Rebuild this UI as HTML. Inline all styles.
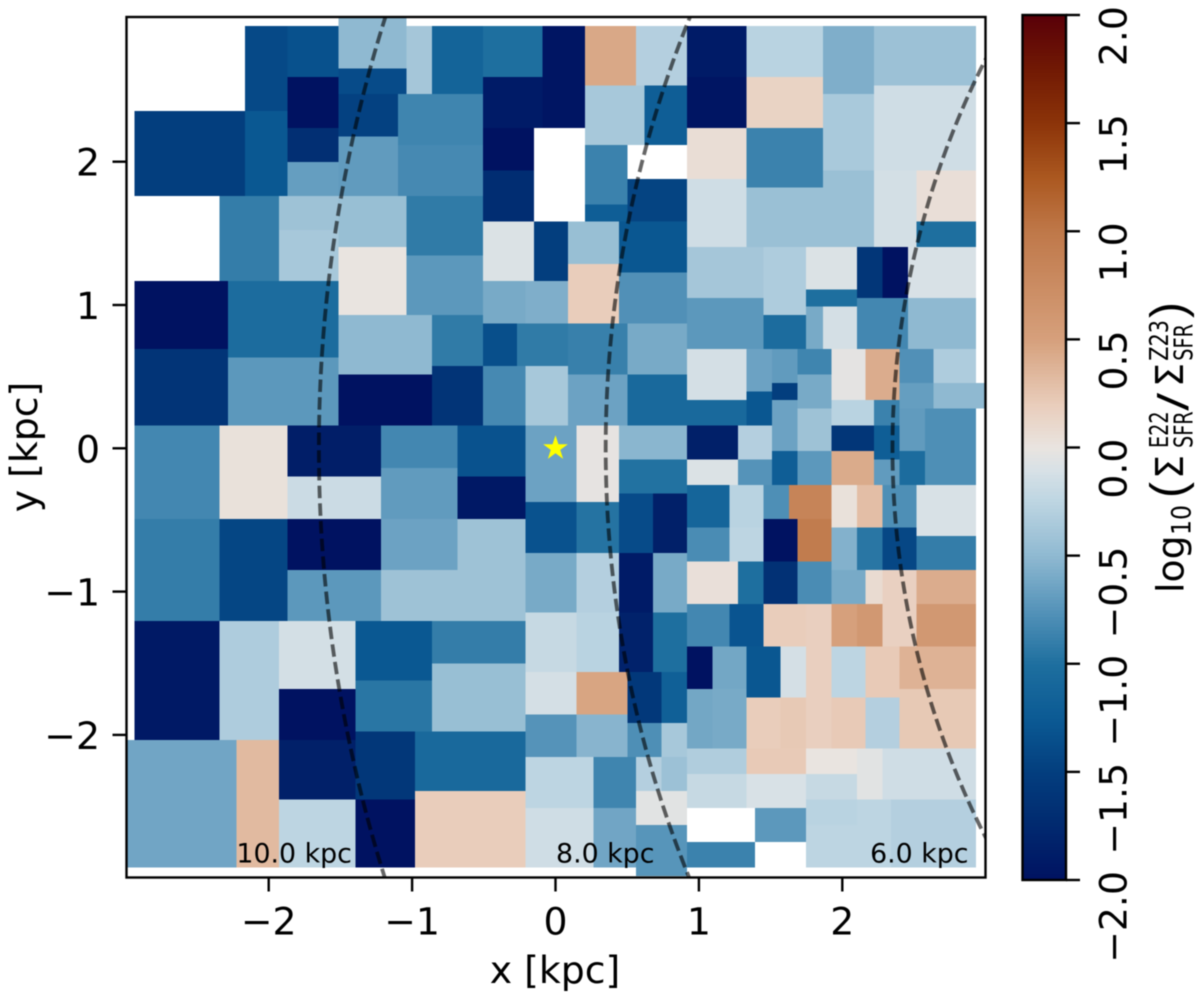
<!DOCTYPE html>
<html lang="en">
<head>
<meta charset="utf-8">
<title>Star formation rate ratio map</title>
<style>
html,body{margin:0;padding:0;background:#fff;}
svg{display:block;filter:blur(0.5px);}
text{font-family:"DejaVu Sans","Liberation Sans",sans-serif;fill:#000;}
</style>
</head>
<body>
<svg id="chart" xmlns="http://www.w3.org/2000/svg" width="1200" height="1002" viewBox="0 0 1200 1002">
  <defs>
    <clipPath id="plot-clip"><rect x="126.5" y="17" width="859" height="860.5"/></clipPath>
  </defs>
  <rect x="0" y="0" width="1200" height="1002" fill="#fff"/>
  <g id="cells" shape-rendering="crispEdges"></g>
  <g id="arcs" clip-path="url(#plot-clip)"></g>
  <g id="star-layer"></g>
  <g id="arc-labels"></g>
  <rect x="126.5" y="17" width="859" height="860.5" fill="none" stroke="#000" stroke-width="2.4"/>
  <g id="x-axis"></g>
  <g id="y-axis"></g>
  <text x="555" y="983" font-size="37.8" text-anchor="middle">x [kpc]</text>
  <text transform="translate(37,447) rotate(-90)" font-size="37.8" text-anchor="middle">y [kpc]</text>
  <g id="colorbar"></g>
  <g id="colorbar-title">
    <text transform="translate(1183.3,593) rotate(-90)" font-size="37.8">log</text>
    <text transform="translate(1190.5,535) rotate(-90) scale(0.89,1)" font-size="26.5">10</text>
    <text transform="translate(1184,498) rotate(-90)" font-size="48" style="font-family:'Liberation Sans',sans-serif">(</text>
    <text transform="translate(1183,479) rotate(-90)" font-size="38">Σ</text>
    <text transform="translate(1168,448) rotate(-90) scale(0.74,1)" font-size="26">E22</text>
    <text transform="translate(1192.7,448) rotate(-90) scale(0.74,1)" font-size="26">SFR</text>
    <text transform="translate(1185,410.7) rotate(-90) scale(1.4,1)" font-size="38">/</text>
    <text transform="translate(1183,387) rotate(-90)" font-size="38">Σ</text>
    <text transform="translate(1168,360.7) rotate(-90) scale(0.8,1)" font-size="26">Z23</text>
    <text transform="translate(1192.7,360.7) rotate(-90) scale(0.74,1)" font-size="26">SFR</text>
    <text transform="translate(1184,318) rotate(-90)" font-size="48" style="font-family:'Liberation Sans',sans-serif">)</text>
  </g>
</svg>
<script>
// Mesh cell extents in mesh-index units: [colStart, colEnd, rowStart, rowEnd]
const cellBounds = [
[14,19,1,11],[19,25,1,7],[25,33,0,6],[33,36,1,9],[36,42,1,9],[42,49,1,7],[49,54,1,7],[42,49,7,13],[49,54,7,13],[19,25,7,13],
[25,33,6,9],[25,32,9,14],[32,42,9,15],[1,14,11,21],[14,19,11,21],[19,25,13,17],[19,25,17,21],[25,32,14,21],[32,42,15,21],[42,48,13,18],
[42,48,18,24],[11,18,21,31],[18,25,21,25],[18,25,25,31],[25,33,21,27],[33,42,21,28],[25,33,27,35],[33,42,28,35],[42,48,24,31],[48,52,24,31],
[1,12,31,39],[12,25,31,40],[25,36,35,42],[36,42,35,41],[42,47,31,36],[47,52,31,36],[42,46,36,41],[46,52,36,41],[1,12,39,48],[12,25,40,48],
[25,36,42,48],[36,42,41,48],[42,47,41,48],[47,52,41,48],
[54,60,1,8],[60,66,1,8],[54,61,8,15],[61,66,8,15],[54,59,15,22],[54,59,22,24],[59,66,19,24],[52,58,24,29],[58,66,24,30],[52,58,29,36],
[58,66,30,36],[52,59,36,42],[59,66,36,42],[52,59,42,48],[59,66,42,48],[66,73,45,48],[73,76,44,48],[66,73,39,45],[73,76,39,44],[76,79,39,43],
[76,79,43,45],[79,83,39,42],[79,83,42,46],[76,79,45,51],[79,83,46,51],[66,75,27,33],[75,80,27,35],[80,86,27,32],[86,89,27,33],[89,92,27,33],
[92,100,27,33],[80,86,32,34],[80,82,34,39],[82,86,34,39],[75,80,35,39],[66,75,33,39],[86,92,33,39],[92,100,33,39],[83,87,39,45],[87,91,39,45],
[91,95,39,43],[95,100,39,43],[91,95,43,46],[95,101,43,46],[83,88,45,48],[88,91,45,48],[91,94,46,51],[94,100,46,55],[83,88,48,51],[88,91,48,52],
[66,72,48,52],[72,76,48,52],[66,72,52,55],[72,76,52,55],[76,79,51,55],[79,83,51,55],[58,66,48,52],[47,53,48,57],[53,58,48,57],[58,66,52,56],
[66,73,1,7],[66,73,7,13],[73,82,1,7],[73,82,7,13],[82,88,1,9],[88,100,1,8],[66,73,13,19],[73,82,13,20],[82,88,9,18],[88,100,8,18],
[88,93,18,27],[93,100,18,24],[93,100,24,27],[73,82,20,27],[82,88,18,27],[66,73,19,27],
[1,11,48,59],[11,19,48,59],[19,30,48,54],[19,30,54,59],[30,39,48,53],[30,39,53,59],[39,47,48,54],[39,47,54,59],[1,11,59,71],[11,19,59,71],
[19,30,59,65],[19,30,65,71],[30,39,59,65],[39,47,59,65],[30,47,65,71],[47,53,57,63],[53,58,57,63],[47,53,63,70],[53,58,63,70],[47,53,70,77],
[53,58,70,77],[47,53,77,82],[53,59,77,82],[47,53,82,87],[53,59,82,87],[47,55,87,93],[47,55,93,100],[55,60,87,93],[55,60,93,100],[1,11,71,85],
[11,18,71,85],[18,27,71,79],[18,27,79,85],[27,36,71,78],[36,47,71,76],[27,36,78,84],[36,47,76,84],[0,13,85,100],[13,18,85,100],[18,27,85,92],
[18,27,92,100],[27,34,84,92],[34,47,84,91],[27,34,92,100],[34,47,91,100],
[58,62,56,63],[62,66,56,63],[58,62,63,70],[58,62,70,77],[62,66,63,70],[62,66,70,77],[59,63,77,83],[63,66,77,83],[59,63,83,87],[63,66,83,87],
[60,63,87,91],[63,66,87,91],[60,66,91,95],[60,66,95,101],
[66,71,55,60],[71,75,55,60],[75,78,55,59],[78,83,55,59],[75,79,59,64],[79,83,59,64],[66,71,60,64],[71,75,60,64],[66,72,64,69],[72,75,64,69],
[75,79,64,69],[79,83,64,69],[66,71,69,74],[71,75,69,74],[75,80,69,74],[80,83,69,74],[83,86,69,74],[86,89,69,74],[89,93,65,74],[87,89,65,69],
[83,87,65,69],[93,100,65,69],[93,100,69,74],[83,86,55,60],[86,89,55,60],[83,86,60,65],[86,89,60,65],[83,88,51,55],[88,91,52,55],[91,94,51,55],
[89,93,55,60],[93,100,55,61],[89,93,60,65],[93,100,61,65],
[66,69,74,79],[69,73,74,79],[73,77,74,80],[77,80,74,80],[80,83,74,86],[83,87,74,80],[87,91,74,80],[91,100,74,79],[66,69,79,86],[69,73,79,86],
[73,77,80,86],[77,80,80,86],[83,87,80,86],[87,91,80,86],[91,100,79,86],[66,73,86,89],[73,80,86,89],[80,86,86,89],[86,89,86,92],[89,100,86,92],
[66,73,89,93],[73,80,89,93],[80,86,89,92],[74,80,93,97],[66,74,97,100],[80,86,92,95],[86,90,92,100],[90,100,92,100],[80,86,95,100]
];
// log10 ratio for each mesh cell, same order as cellBounds
const cellValues = [
-1.4,-1.33,-0.5,-0.38,-1.13,-1.0,-1.97,-1.9,-1.97,-2,
-1.38,-1.47,-0.85,-1.5,-1.27,-1.68,-0.68,-0.7,-0.82,-2,
-1.7,-0.9,-0.42,-0.37,-0.45,-0.92,0,-0.72,-0.08,-1.5,
-2,-1.03,-0.5,-0.92,-0.6,-0.57,-1.35,-0.92,-1.62,-0.72,
-2,-1.62,-0.82,-0.37,
0.45,-0.3,-0.37,-1.2,-0.87,-1.2,-1.45,-0.45,-1.28,0.2,
-0.77,-0.88,-0.6,-0.65,-1.07,-1.07,-1.28,-0.12,-0.65,-0.7,
-1.5,-0.85,-0.6,-0.65,-0.42,-0.38,-0.33,-0.08,-1.6,-2,
-0.1,-1.0,-0.6,-0.12,-1.03,-0.72,-0.83,-0.5,-0.03,0.42,
-0.77,-0.33,-0.68,-0.5,-0.27,-0.87,-0.7,-0.78,-1.6,-1.2,
-1.85,-0.3,-0.08,-0.75,-1.2,-0.72,-0.52,-0.65,-0.02,-0.98,
-1.9,-1.97,-0.27,0.15,-0.57,-0.43,0.06,-0.87,-0.36,-0.15,
-0.13,0.05,-1.0,-0.44,-0.44,-0.15,
-0.83,0.03,-1.87,-0.17,-0.83,-0.7,-1.32,-1.93,-0.9,-1.43,
-2,-0.72,-0.65,-0.42,-0.42,-1.32,-0.97,-0.6,-0.3,-0.2,
-0.27,-0.12,0.47,-0.75,-0.53,-0.25,-0.15,-0.85,-0.63,-1.92,
-0.33,-0.13,-2,-1.27,-0.9,-0.95,-0.45,-0.63,0.33,-1.85,
-0.25,-1.58,-1.07,-2,0.2,
-1.38,-1.85,-1.9,-1.83,-0.6,-1.0,-1.57,-1.18,-0.78,-0.37,
-0.3,-0.43,-0.05,-0.74,
-1.12,-0.27,-0.78,0.85,-2,0.95,-0.8,-0.25,0.04,-1.0,
-1.65,-0.8,-0.83,-1.3,0.2,0.18,0.5,0.6,0.17,0.08,
-0.6,0.42,0.6,0.03,0.3,-0.55,-0.95,0.43,-0.7,-1.03,
-0.78,-0.1,-1.42,-0.9,
-2,-0.62,-1.28,-0.12,0.18,-0.25,0.22,0.38,-0.62,-0.6,
0.2,0.23,0.22,-0.3,0.23,-0.32,0.22,0,-0.05,-0.15,
-0.2,-0.1,-0.2,-0.72,-0.87,-0.27,-0.25,-0.3,-0.25
];
const xTickValues = [-2,-1,0,1,2];
const xTickLabels = ['−2','−1','0','1','2'];
const yTickValues = [-2,-1,0,1,2];
const yTickLabels = ['−2','−1','0','1','2'];
const colorbarTickValues = [-2,-1.5,-1,-0.5,0,0.5,1,1.5,2];
const colorbarTickLabels = ['−2.0','−1.5','−1.0','−0.5','0.0','0.5','1.0','1.5','2.0'];
const arcRadii = [10,8,6];
const arcLabels = ['10.0 kpc','8.0 kpc','6.0 kpc'];
const arcLabelX = [-1.42,0.69,2.88];
const arcLabelY = [-2.89,-2.89,-2.89];
const sunDistance = [8.35];
const sunX = [0];
const sunY = [0];
const colorStopValues = [-2,-1.75,-1.5,-1.25,-1,-0.75,-0.5,-0.25,-0.1,0,0.2,0.5,1,1.25,1.5,1.75,2];
const colorStopHex = ['#001261','#01296f','#033e7e','#0b5a94','#1e6f9f','#5593b9','#8fb9d1','#bdd5e2','#d8e1e6','#e9e4e0','#e9cdbb','#d6a07c','#bf7849','#ab5820','#8c3409','#711904','#590008'];

const SVGNS = 'http://www.w3.org/2000/svg';
function xScale(v){ return 555.5 + 143.4 * v; }
function yScale(v){ return 448.3 - 143.3 * v; }
function meshX(c){ return -2.995 + 0.05927 * c; }
function meshY(r){ return 3.005 - 0.05932 * r; }
function cbScale(v){ return 447.5 - 216.25 * v; }
function hexToRgb(h){ return [1,3,5].map(function(i){ return parseInt(h.substr(i,2),16); }); }
function colormap(v){
  const n = colorStopValues.length;
  if (v <= colorStopValues[0]) return colorStopHex[0];
  if (v >= colorStopValues[n-1]) return colorStopHex[n-1];
  for (let i = 0; i < n-1; i++) {
    if (v <= colorStopValues[i+1]) {
      const t = (v - colorStopValues[i]) / (colorStopValues[i+1] - colorStopValues[i]);
      const a = hexToRgb(colorStopHex[i]);
      const b = hexToRgb(colorStopHex[i+1]);
      return 'rgb(' + a.map(function(x,k){ return Math.round(x + (b[k]-x)*t); }).join(',') + ')';
    }
  }
}
function make(tag, parent, attrs){
  const el = document.createElementNS(SVGNS, tag);
  Object.keys(attrs).forEach(function(k){ el.setAttribute(k, attrs[k]); });
  parent.appendChild(el);
  return el;
}

// heatmap cells
const cellsG = document.getElementById('cells');
cellBounds.forEach(function(b, i){
  const x0 = xScale(meshX(b[0])), x1 = xScale(meshX(b[1]));
  const y0 = yScale(meshY(b[2])), y1 = yScale(meshY(b[3]));
  const el = make('rect', cellsG, {x:x0, y:y0, width:x1-x0, height:y1-y0, fill:colormap(cellValues[i])});
  
  
});

// dashed radius arcs
const arcsG = document.getElementById('arcs');
arcRadii.forEach(function(R){
  const pts = [];
  for (let k = -60; k <= 60; k++) {
    const yv = k * 0.06;
    const inner = R*R - yv*yv;
    pts.push(xScale(sunDistance[0] - Math.sqrt(inner)).toFixed(2) + ',' + yScale(yv).toFixed(2));
  }
  const el = make('polyline', arcsG, {points:pts.join(' '), fill:'none', stroke:'#000', 'stroke-opacity':'0.6', 'stroke-width':'3.8', 'stroke-dasharray':'12.5 5.2'});
  
  
});

// radius labels
const labelsG = document.getElementById('arc-labels');
arcLabels.forEach(function(t, i){
  const el = make('text', labelsG, {x:xScale(arcLabelX[i]), y:yScale(arcLabelY[i]), 'font-size':'26.8', 'text-anchor':'end'});
  el.textContent = t;
  
  
});

// sun marker
const starG = document.getElementById('star-layer');
const starPts = [];
for (let k = 0; k < 10; k++) {
  const ang = -Math.PI/2 + k * Math.PI / 5;
  const rad = k % 2 === 0 ? 13 : 5;
  starPts.push((xScale(sunX[0]) + rad*Math.cos(ang)).toFixed(2) + ',' + (yScale(sunY[0]) + rad*Math.sin(ang)).toFixed(2));
}
const starEl = make('polygon', starG, {points:starPts.join(' '), fill:'#ffff00'});



// x axis
const xG = document.getElementById('x-axis');
xTickValues.forEach(function(v, i){
  const px = xScale(v);
  const tick = make('line', xG, {x1:px, x2:px, y1:877.5, y2:891.5, stroke:'#000', 'stroke-width':'2.4'});
  
  
  const lab = make('text', xG, {x:px, y:934.5, 'font-size':'37.8', 'text-anchor':'middle'});
  lab.textContent = xTickLabels[i];
  
  
});

// y axis
const yG = document.getElementById('y-axis');
yTickValues.forEach(function(v, i){
  const py = yScale(v);
  const tick = make('line', yG, {x1:112.5, x2:126.5, y1:py, y2:py, stroke:'#000', 'stroke-width':'2.4'});
  
  
  const lab = make('text', yG, {x:100, y:py+14, 'font-size':'37.8', 'text-anchor':'end'});
  lab.textContent = yTickLabels[i];
  
  
});

// colorbar
const cbG = document.getElementById('colorbar');
const cbSteps = 256;
const cbBand = make('g', cbG, {'shape-rendering':'crispEdges'});


for (let k = 0; k < cbSteps; k++) {
  const v0 = -2 + 4 * k / cbSteps;
  const v1 = -2 + 4 * (k+1) / cbSteps;
  make('rect', cbBand, {x:1022.5, y:cbScale(v1), width:43.5, height:cbScale(v0)-cbScale(v1)+0.6, fill:colormap((v0+v1)/2)});
}
const cbFrame = make('rect', cbG, {x:1022.5, y:cbScale(2), width:43.5, height:cbScale(-2)-cbScale(2), fill:'none', stroke:'#000', 'stroke-width':'2.4'});


colorbarTickValues.forEach(function(v, i){
  const py = cbScale(v);
  const tick = make('line', cbG, {x1:1066, x2:1080, y1:py, y2:py, stroke:'#000', 'stroke-width':'2.4'});
  
  
  const lab = make('text', cbG, {transform:'translate(1126.5,' + (py-9) + ') rotate(-90)', 'font-size':'37.8', 'text-anchor':'end'});
  lab.textContent = colorbarTickLabels[i];
  
  
});
</script>
</body>
</html>
